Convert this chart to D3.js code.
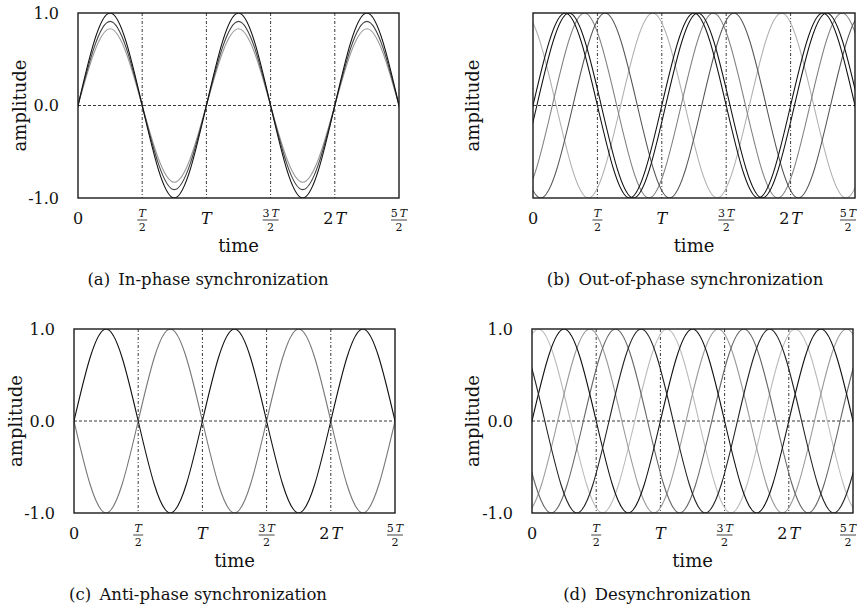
<!DOCTYPE html>
<meta charset="utf-8">
<head>
<style>
body { margin: 0; background: #fff; }
text { font-family: "DejaVu Serif", "Liberation Serif", serif; fill: #111; }
.frame { fill: none; stroke: #1a1a1a; stroke-width: 1.4px; }
.grid { fill: none; stroke: #222; stroke-width: 0.9px; stroke-dasharray: 3,2,1,2; }
.zero { fill: none; stroke: #222; stroke-width: 0.9px; stroke-dasharray: 3,2; }
.wave { fill: none; stroke-width: 1.1px; }
</style>
</head>
<body>
<script src="https://cdn.jsdelivr.net/npm/d3@7"></script>
<script>
// ticks (time in units of the period T)
var xTicks = [0, 0.5, 1, 1.5, 2, 2.5];
var xTickNum = ["0", "T", "T", "3T", "2T", "5T"];
var xTickDen = [null, "2", null, "2", null, "2"];
var yTicks = [-1, 0, 1];
var yTickLabels = ["-1.0", "0.0", "1.0"];

// each series: its peaks and troughs [time/T, amplitude]
// (a) in-phase
var inPhaseBlack = [[-0.75,1],[-0.25,-1],[0.25,1],[0.75,-1],[1.25,1],[1.75,-1],[2.25,1],[2.75,-1],[3.25,1]];
var inPhaseDark  = [[-0.75,0.91],[-0.25,-0.91],[0.25,0.91],[0.75,-0.91],[1.25,0.91],[1.75,-0.91],[2.25,0.91],[2.75,-0.91],[3.25,0.91]];
var inPhaseLight = [[-0.75,0.83],[-0.25,-0.83],[0.25,0.83],[0.75,-0.83],[1.25,0.83],[1.75,-0.83],[2.25,0.83],[2.75,-0.83],[3.25,0.83]];
// (b) out-of-phase
var outBlack1 = [[-0.75,1],[-0.25,-1],[0.25,1],[0.75,-1],[1.25,1],[1.75,-1],[2.25,1],[2.75,-1],[3.25,1]];
var outBlack2 = [[-0.72,1],[-0.22,-1],[0.28,1],[0.78,-1],[1.28,1],[1.78,-1],[2.28,1],[2.78,-1],[3.28,1]];
var outMid    = [[-0.60,1],[-0.10,-1],[0.40,1],[0.90,-1],[1.40,1],[1.90,-1],[2.40,1],[2.90,-1],[3.40,1]];
var outDark   = [[-0.94,-1],[-0.44,1],[0.06,-1],[0.56,1],[1.06,-1],[1.56,1],[2.06,-1],[2.56,1],[3.06,-1]];
var outLight  = [[-0.57,-1],[-0.07,1],[0.43,-1],[0.93,1],[1.43,-1],[1.93,1],[2.43,-1],[2.93,1],[3.43,-1]];
// (c) anti-phase
var antiBlack = [[-0.75,1],[-0.25,-1],[0.25,1],[0.75,-1],[1.25,1],[1.75,-1],[2.25,1],[2.75,-1],[3.25,1]];
var antiGray  = [[-0.75,-1],[-0.25,1],[0.25,-1],[0.75,1],[1.25,-1],[1.75,1],[2.25,-1],[2.75,1],[3.25,-1]];
// (d) desynchronization
var desLight  = [[-0.95,1],[-0.45,-1],[0.05,1],[0.55,-1],[1.05,1],[1.55,-1],[2.05,1],[2.55,-1],[3.05,1]];
var desBlack1 = [[-0.75,1],[-0.25,-1],[0.25,1],[0.75,-1],[1.25,1],[1.75,-1],[2.25,1],[2.75,-1],[3.25,1]];
var desMid    = [[-0.55,1],[-0.05,-1],[0.45,1],[0.95,-1],[1.45,1],[1.95,-1],[2.45,1],[2.95,-1],[3.45,1]];
var desDark   = [[-0.85,-1],[-0.35,1],[0.15,-1],[0.65,1],[1.15,-1],[1.65,1],[2.15,-1],[2.65,1],[3.15,-1]];
var desBlack2 = [[-0.65,-1],[-0.15,1],[0.35,-1],[0.85,1],[1.35,-1],[1.85,1],[2.35,-1],[2.85,1],[3.35,-1]];

var panels = [
  { x0: 78, x1: 399, y0: 13, y1: 198, yLabX: 59, ampX: 20, capX: 208, capY: 285,
    caption: "(a)\u2002In-phase synchronization",
    series: [[inPhaseLight, "#999"], [inPhaseDark, "#444"], [inPhaseBlack, "#111"]] },
  { x0: 533, x1: 855, y0: 13, y1: 198, yLabX: null, ampX: 473, capX: 685, capY: 285,
    caption: "(b)\u2002Out-of-phase synchronization",
    series: [[outLight, "#b0b0b0"], [outMid, "#808080"], [outDark, "#555"], [outBlack1, "#111"], [outBlack2, "#111"]] },
  { x0: 74, x1: 395, y0: 329, y1: 513, yLabX: 55, ampX: 16, capX: 198, capY: 600,
    caption: "(c)\u2002Anti-phase synchronization",
    series: [[antiGray, "#777"], [antiBlack, "#111"]] },
  { x0: 532, x1: 853, y0: 329, y1: 513, yLabX: 513, ampX: 473, capX: 657, capY: 600,
    caption: "(d)\u2002Desynchronization",
    series: [[desLight, "#bbb"], [desMid, "#999"], [desDark, "#666"], [desBlack1, "#111"], [desBlack2, "#222"]] }
];

var svg = d3.select("body").append("svg")
    .attr("width", 859)
    .attr("height", 609);

// writes "2T" style label: digits upright, T italic
function tickText(sel, s) {
  if (s.slice(-1) === "T") {
    var pre = s.slice(0, -1);
    if (pre) sel.append("tspan").text(pre);
    sel.append("tspan").attr("dx", pre ? 2 : 0).style("font-style", "italic").text("T");
  } else {
    sel.text(s);
  }
}

panels.forEach(function(p, i) {
  var x = d3.scaleLinear().domain([0, 2.5]).range([p.x0, p.x1]);
  var y = d3.scaleLinear().domain([-1, 1]).range([p.y1, p.y0]);
  var g = svg.append("g");

  g.append("clipPath").attr("id", "clip" + i)
    .append("rect")
    .attr("x", p.x0).attr("y", p.y0)
    .attr("width", p.x1 - p.x0).attr("height", p.y1 - p.y0);

  // grid lines
  g.selectAll(".grid").data(xTicks.slice(1, -1)).enter().append("line")
    .attr("class", "grid")
    .attr("x1", function(d) { return x(d); }).attr("x2", function(d) { return x(d); })
    .attr("y1", p.y0).attr("y2", p.y1);
  g.append("line").attr("class", "zero")
    .attr("x1", p.x0).attr("x2", p.x1)
    .attr("y1", y(0)).attr("y2", y(0));

  // waves
  var line = d3.line()
    .x(function(d) { return x(d[0]); })
    .y(function(d) { return y(d[1]); })
    .curve(d3.curveMonotoneX);
  g.append("g").attr("clip-path", "url(#clip" + i + ")")
    .selectAll("path").data(p.series).enter().append("path")
    .attr("class", "wave")
    .attr("stroke", function(d) { return d[1]; })
    .attr("d", function(d) { return line(d[0]); });

  g.append("rect").attr("class", "frame")
    .attr("x", p.x0).attr("y", p.y0)
    .attr("width", p.x1 - p.x0).attr("height", p.y1 - p.y0);

  // y tick labels
  if (p.yLabX !== null) {
    g.selectAll(".ylab").data(yTicks).enter().append("text")
      .attr("x", p.yLabX)
      .attr("y", function(d) { return y(d); })
      .attr("dy", "0.35em")
      .attr("text-anchor", "end")
      .style("font-size", "16px")
      .text(function(d, k) { return yTickLabels[k]; });
  }

  // x tick labels
  xTicks.forEach(function(t, k) {
    var cx = Math.min(x(t), 848);
    if (xTickDen[k] === null) {
      var tx = g.append("text")
        .attr("x", cx).attr("y", p.y1 + 26)
        .attr("text-anchor", "middle")
        .style("font-size", "16px");
      tickText(tx, xTickNum[k]);
    } else {
      var hw = xTickNum[k].length > 1 ? 8 : 5;
      var nt = g.append("text")
        .attr("x", cx).attr("y", p.y1 + 19)
        .attr("text-anchor", "middle")
        .style("font-size", "11px");
      tickText(nt, xTickNum[k]);
      g.append("line")
        .attr("x1", cx - hw).attr("x2", cx + hw)
        .attr("y1", p.y1 + 22).attr("y2", p.y1 + 22)
        .attr("stroke", "#111").attr("stroke-width", 0.8);
      g.append("text")
        .attr("x", cx).attr("y", p.y1 + 33)
        .attr("text-anchor", "middle")
        .style("font-size", "11px")
        .text(xTickDen[k]);
    }
  });

  // axis titles
  g.append("text")
    .attr("x", (p.x0 + p.x1) / 2).attr("y", p.y1 + 54)
    .attr("text-anchor", "middle")
    .style("font-size", "18px")
    .text("time");
  g.append("text")
    .attr("transform", "translate(" + p.ampX + "," + ((p.y0 + p.y1) / 2) + ") rotate(-90)")
    .attr("dy", "0.35em")
    .attr("text-anchor", "middle")
    .style("font-size", "18px")
    .text("amplitude");

  // caption
  g.append("text")
    .attr("x", p.capX).attr("y", p.capY)
    .attr("text-anchor", "middle")
    .style("font-size", "16.5px")
    .text(p.caption);
});
</script>
</body>
</html>
